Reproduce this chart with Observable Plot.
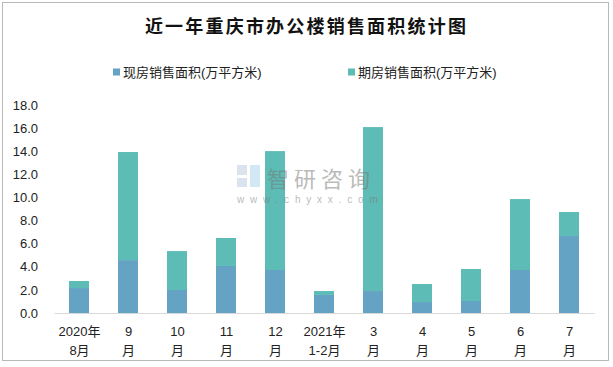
<!DOCTYPE html>
<html>
<head>
<meta charset="utf-8">
<script src="https://cdn.jsdelivr.net/npm/d3@7"></script>
<script src="https://cdn.jsdelivr.net/npm/@observablehq/plot@0.6"></script>
<style>
  html, body { margin: 0; padding: 0; background: #fff; }
  #chart svg { display: block; }
</style>
</head>
<body>
<div id="chart"></div>
<script>
const title = "近一年重庆市办公楼销售面积统计图";
const seriesNames = ["现房销售面积(万平方米)", "期房销售面积(万平方米)"];
const categories = ["2020年\n8月", "9\n月", "10\n月", "11\n月", "12\n月", "2021年\n1-2月", "3\n月", "4\n月", "5\n月", "6\n月", "7\n月"];
const spotArea = [2.16, 4.58, 1.99, 4.07, 3.72, 1.56, 1.90, 0.95, 1.04, 3.72, 6.66];
const futureArea = [0.61, 9.35, 3.37, 2.42, 10.29, 0.34, 14.19, 1.56, 2.77, 6.14, 2.08];
const yTicks = [0, 2, 4, 6, 8, 10, 12, 14, 16, 18];
const colors = ["#64a3c3", "#5dbcb6"];

const data = [];
categories.forEach((c, i) => {
  data.push({cat: c, series: seriesNames[0], value: spotArea[i]});
  data.push({cat: c, series: seriesNames[1], value: futureArea[i]});
});

const font = "'Liberation Sans', 'Noto Sans CJK SC', sans-serif";

const plot = Plot.plot({
  width: 613,
  height: 367,
  marginTop: 105,
  marginBottom: 54,
  marginLeft: 54.5,
  marginRight: 18.5,
  style: {fontFamily: font, fontSize: "13px", color: "#222", background: "#fff"},
  x: {domain: categories, paddingInner: 0.59, paddingOuter: 0.295, label: null},
  y: {domain: [0, 18], label: null},
  color: {domain: seriesNames, range: colors},
  marks: [
    Plot.barY(data, {x: "cat", y: "value", fill: "series", order: seriesNames}),
    Plot.ruleY([0], {stroke: "#d9d9d9", strokeWidth: 1.2}),
    Plot.axisY({ticks: yTicks, tickFormat: d3.format(".1f"), tickSize: 0, tickPadding: 17, fontSize: 13, fill: "#222"}),
    Plot.axisX({tickSize: 0, tickPadding: 9, lineHeight: 1.45, fontSize: 13, fill: "#222"})
  ]
});

document.getElementById("chart").appendChild(plot);

const svg = d3.select(plot);

// border
svg.append("rect")
  .attr("x", 2.5).attr("y", 2.5).attr("width", 606).attr("height", 358)
  .attr("fill", "none").attr("stroke", "#b8b8b8").attr("stroke-width", 1);

// title
svg.append("text")
  .attr("x", 306.5).attr("y", 25)
  .attr("text-anchor", "middle").attr("dominant-baseline", "central")
  .style("font-family", "'Noto Sans CJK SC', sans-serif")
  .style("font-size", "18px").style("font-weight", "bold").style("letter-spacing", "2.2px")
  .attr("fill", "#111")
  .text(title);

// watermark
const wm = svg.append("g").attr("opacity", 0.5);
wm.append("rect").attr("x", 237).attr("y", 165).attr("width", 10).attr("height", 10).attr("fill", "#b9c8e0");
wm.append("rect").attr("x", 237).attr("y", 178).attr("width", 10).attr("height", 9).attr("fill", "#b9c8e0");
wm.append("rect").attr("x", 250).attr("y", 165).attr("width", 10).attr("height", 22).attr("fill", "#a9d3ec");
wm.append("text")
  .attr("x", 267).attr("y", 176.5).attr("text-anchor", "start").attr("dominant-baseline", "central")
  .style("font-family", "'Noto Sans CJK SC', sans-serif").style("font-size", "22px").style("letter-spacing", "5px")
  .attr("fill", "#777")
  .text("智研咨询");
wm.append("text")
  .attr("x", 237).attr("y", 199.5).attr("text-anchor", "start").attr("dominant-baseline", "central")
  .style("font-family", font).style("font-size", "10px").style("letter-spacing", "5.8px")
  .attr("fill", "#777")
  .text("www.chyxx.com");

// legend
const legendX = [113, 348];
seriesNames.forEach((name, i) => {
  svg.append("rect")
    .attr("x", legendX[i]).attr("y", 68.5).attr("width", 7).attr("height", 7)
    .attr("fill", colors[i]);
  svg.append("text")
    .attr("x", legendX[i] + 10).attr("y", 72)
    .attr("text-anchor", "start").attr("dominant-baseline", "central")
    .style("font-family", font).style("font-size", "13px")
    .attr("fill", "#222")
    .text(name);
});
</script>
</body>
</html>
